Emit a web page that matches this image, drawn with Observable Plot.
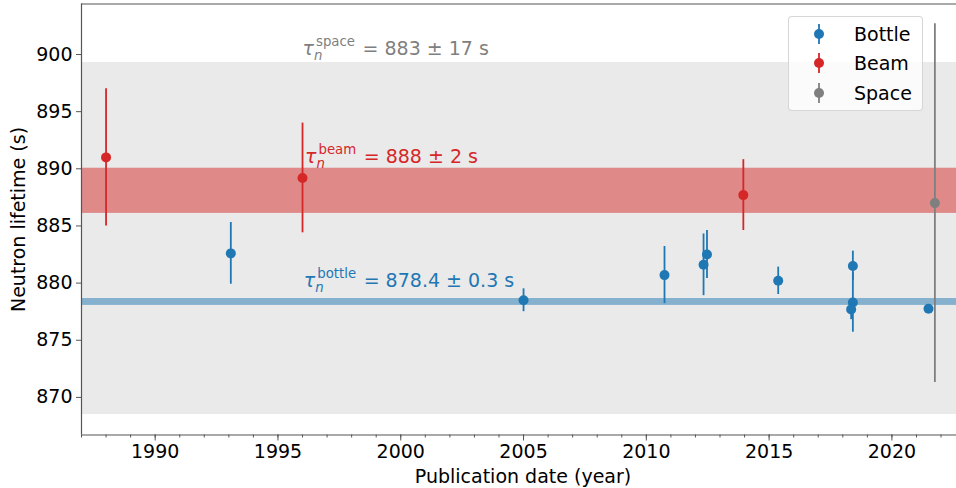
<!DOCTYPE html>
<html>
<head>
<meta charset="utf-8">
<script src="https://cdn.jsdelivr.net/npm/d3@7"></script>
<script src="https://cdn.jsdelivr.net/npm/@observablehq/plot@0.6"></script>
<style>
  body { margin: 0; background: #fff; }
  #wrap { position: relative; width: 956px; height: 488px; font-family: "DejaVu Sans", sans-serif; }
  #legend { position: absolute; left: 788px; top: 16px; width: 133px; height: 93px;
            background: rgba(255,255,255,0.8); border: 1px solid rgba(204,204,204,0.8);
            border-radius: 4px; }
  .lrow { position: absolute; left: 0; width: 133px; height: 24px; }
  .lrow svg { position: absolute; left: 20px; top: 0; }
  .lrow span { position: absolute; left: 65px; top: 0; line-height: 24px; font-size: 19px; color: #000; }
</style>
</head>
<body>
<div id="wrap"><div id="legend"></div></div>
<script>
// ---- data ----
const bottleYear  = [1993.08, 2005.0, 2010.74, 2012.33, 2012.47, 2015.37, 2018.41, 2018.41, 2018.34, 2021.49];
const bottleValue = [882.6, 878.5, 880.7, 881.6, 882.5, 880.2, 881.5, 878.3, 877.7, 877.75];
const bottleError = [2.7, 1.0, 2.5, 2.7, 2.1, 1.2, 1.3, 2.6, 0.9, 0.3];

const beamYear  = [1988.0, 1996.0, 2013.95];
const beamValue = [891.0, 889.2, 887.7];
const beamError = [6.0, 4.8, 3.1];

const spaceYear  = [2021.75];
const spaceValue = [887.0];
const spaceError = [15.7];

const seriesNames = ["Bottle", "Beam", "Space"];
const seriesColors = ["#1f77b4", "#d62728", "#7f7f7f"];

// averaged bands [low, high]
const spaceBand  = [868.5, 899.3];
const beamBand   = [886.1, 890.05];
const bottleBand = [878.05, 878.65];

const annSup  = ["space", "beam", "bottle"];
const annText = ["883 ± 17 s", "888 ± 2 s", "878.4 ± 0.3 s"];
const annX    = [1996.0, 1996.1, 1996.05];
const annY    = [900.0, 890.55, 879.65];

const xTicks = [1990, 1995, 2000, 2005, 2010, 2015, 2020];
const xMinor = d3.range(1987, 2023);
const yTicks = [870, 875, 880, 885, 890, 895, 900];
const xDomain = [1987, 2022.63];
const yDomain = [866.71, 904.42];

// ---- build tables ----
const mk = (ys, vs, es) => ys.map((y, i) => ({year: y, value: vs[i], err: es[i]}));
const bottle = mk(bottleYear, bottleValue, bottleError);
const beam = mk(beamYear, beamValue, beamError);
const space = mk(spaceYear, spaceValue, spaceError);
const annotations = annSup.map((s, i) => ({sup: s, text: annText[i], x: annX[i], y: annY[i], color: seriesColors[[2,1,0][i]]}));

const errMarks = (data, color) => [
  Plot.ruleX(data, {x: d => d.year, y1: d => d.value - d.err, y2: d => d.value + d.err, stroke: color, strokeWidth: 1.8}),
  Plot.dot(data, {x: d => d.year, y: d => d.value, r: 5, fill: color, stroke: "none"})
];

const spine = "#555";
const chart = Plot.plot({
  width: 956, height: 488,
  marginLeft: 81, marginRight: 0, marginTop: 3.5, marginBottom: 53.5,
  style: {fontFamily: "DejaVu Sans", fontSize: "19px", background: "white", color: "black"},
  x: {domain: xDomain, label: null},
  y: {domain: yDomain, label: null},
  marks: [
    Plot.rect([spaceBand], {y1: d => d[0], y2: d => d[1], fill: "#7f7f7f", fillOpacity: 0.16}),
    Plot.rect([beamBand], {y1: d => d[0], y2: d => d[1], fill: "#d62728", fillOpacity: 0.5}),
    Plot.rect([bottleBand], {y1: d => d[0], y2: d => d[1], fill: "#1f77b4", fillOpacity: 0.5}),
    ...errMarks(bottle, seriesColors[0]),
    ...errMarks(beam, seriesColors[1]),
    ...errMarks(space, seriesColors[2]),
    Plot.text(annotations, {x: d => d.x, y: d => d.y, text: d => d.text, fill: d => d.color,
      textAnchor: "start", lineAnchor: "bottom", fontSize: 19}),
    Plot.axisY({ticks: yTicks, tickSize: 5, tickPadding: 4, label: null, fontSize: 19, stroke: spine, tickFormat: d => String(d)}),
    Plot.axisX({ticks: xMinor, tickSize: 3, label: null, tickFormat: () => "", stroke: spine}),
    Plot.axisX({ticks: xTicks, tickSize: 6, tickPadding: 3, label: null, fontSize: 19, stroke: spine, tickFormat: d => String(d)}),
    Plot.ruleX([xDomain[0]], {stroke: spine, strokeWidth: 1.2}),
    Plot.ruleY(yDomain, {stroke: spine, strokeWidth: 1.2}),
    Plot.text(["Neutron lifetime (s)"], {text: d => d, frameAnchor: "left", dx: -62.5, rotate: -90,
      textAnchor: "middle", lineAnchor: "middle", fontSize: 19}),
    Plot.text(["Publication date (year)"], {text: d => d, frameAnchor: "bottom", dx: 4, dy: 41.5,
      textAnchor: "middle", lineAnchor: "middle", fontSize: 19})
  ]
});

const wrap = document.getElementById("wrap");
wrap.insertBefore(chart, wrap.firstChild);

// rich-text annotations (τ_n^label = value)
d3.select(chart).selectAll("text").each(function() {
  const k = annText.indexOf(this.textContent);
  if (k < 0) return;
  const a = annotations[k];
  const t = d3.select(this);
  t.text(null);
  t.append("tspan").attr("font-style", "italic").text("τ");
  t.append("tspan").attr("font-style", "italic").attr("font-size", 13.3).attr("dy", 5).text("n");
  t.append("tspan").attr("font-size", 13.3).attr("dx", -6.4).attr("dy", -14).text(a.sup);
  t.append("tspan").attr("dx", 1.5).attr("dy", 9).text(" = " + a.text);
});

// legend
const legend = d3.select("#legend");
seriesNames.forEach((name, i) => {
  const row = legend.append("div").attr("class", "lrow").style("top", (4.7 + i * 29.5) + "px");
  const s = row.append("svg").attr("width", 20).attr("height", 24);
  s.append("line").attr("x1", 10).attr("x2", 10).attr("y1", 2).attr("y2", 22)
    .attr("stroke", seriesColors[i]).attr("stroke-width", 1.8);
  s.append("circle").attr("cx", 10).attr("cy", 12).attr("r", 5).attr("fill", seriesColors[i]);
  row.append("span").text(name);
});
</script>
</body>
</html>
